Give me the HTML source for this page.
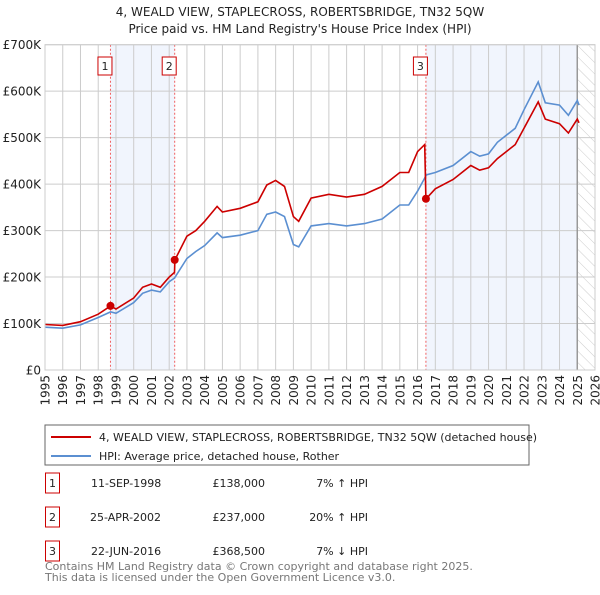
<!DOCTYPE html>
<html><head><meta charset="utf-8"><style>
body{margin:0;background:#fff;font-family:"Liberation Sans","DejaVu Sans",sans-serif;}
svg text{font-family:"DejaVu Sans","Liberation Sans",sans-serif;}
</style></head><body>
<svg id="c" width="600" height="590" xmlns="http://www.w3.org/2000/svg">
<defs><pattern id="hatch" width="8" height="8" patternUnits="userSpaceOnUse" patternTransform="rotate(-45)"><line x1="0" y1="0" x2="0" y2="8" stroke="#ccc" stroke-width="1"/></pattern></defs>
<text x="300" y="16" text-anchor="middle" font-size="12" fill="#222">4, WEALD VIEW, STAPLECROSS, ROBERTSBRIDGE, TN32 5QW</text>
<text x="300" y="33" text-anchor="middle" font-size="12" fill="#222">Price paid vs. HM Land Registry's House Price Index (HPI)</text>
<g id="plot"></g>
<rect x="45" y="425" width="484" height="40" fill="#fff" stroke="#666"/>
<line x1="51" y1="437" x2="91" y2="437" stroke="#cc0000" stroke-width="2"/>
<text x="99" y="441" font-size="11" fill="#222">4, WEALD VIEW, STAPLECROSS, ROBERTSBRIDGE, TN32 5QW (detached house)</text>
<line x1="51" y1="456" x2="91" y2="456" stroke="#5b8fd1" stroke-width="2"/>
<text x="99" y="460" font-size="11" fill="#222">HPI: Average price, detached house, Rother</text>
<g font-size="11" fill="#222">
<rect x="45.5" y="473" width="14" height="20" fill="#fff" stroke="#cc0000"/><text x="52.5" y="487" text-anchor="middle">1</text>
<text x="91" y="487">11-SEP-1998</text><text x="265" y="487" text-anchor="end">£138,000</text><text x="368" y="487" text-anchor="end">7% ↑ HPI</text>
<rect x="45.5" y="507" width="14" height="20" fill="#fff" stroke="#cc0000"/><text x="52.5" y="521" text-anchor="middle">2</text>
<text x="90" y="521">25-APR-2002</text><text x="265" y="521" text-anchor="end">£237,000</text><text x="368" y="521" text-anchor="end">20% ↑ HPI</text>
<rect x="45.5" y="541" width="14" height="20" fill="#fff" stroke="#cc0000"/><text x="52.5" y="555" text-anchor="middle">3</text>
<text x="91" y="555">22-JUN-2016</text><text x="265" y="555" text-anchor="end">£368,500</text><text x="368" y="555" text-anchor="end">7% ↓ HPI</text>
</g>
<text x="45" y="570" font-size="11" fill="#777">Contains HM Land Registry data © Crown copyright and database right 2025.</text>
<text x="45" y="581" font-size="11" fill="#777">This data is licensed under the Open Government Licence v3.0.</text>
</svg>
<script>
const hpiYears=[1995,1996,1997,1998,1998.7,1999,2000,2000.5,2001,2001.5,2002,2002.3,2003,2003.5,2004,2004.7,2005,2006,2007,2007.5,2008,2008.5,2009,2009.3,2010,2011,2012,2013,2014,2015,2015.5,2016,2016.5,2017,2018,2019,2019.5,2020,2020.5,2021,2021.5,2022,2022.8,2023.2,2024,2024.5,2025,2025.1];
const hpiValues=[92,90,97,113,125,122,145,165,172,168,190,198,240,255,268,295,285,290,300,335,340,330,270,265,310,315,310,315,325,355,355,385,420,425,440,470,460,465,490,505,520,560,620,575,570,548,580,570];
const priceYears=[1995,1996,1997,1998,1998.7,1999,2000,2000.5,2001,2001.5,2002,2002.3,2002.32,2003,2003.5,2004,2004.7,2005,2006,2007,2007.5,2008,2008.5,2009,2009.3,2010,2011,2012,2013,2014,2015,2015.5,2016,2016.4,2016.47,2017,2018,2019,2019.5,2020,2020.5,2021,2021.5,2022,2022.8,2023.2,2024,2024.5,2025,2025.1];
const priceValues=[98,96,104,120,138,131,155,178,185,178,200,210,237,288,300,320,352,340,348,362,398,408,395,330,320,370,378,372,378,395,425,425,470,485,368,390,410,440,430,435,455,470,485,520,577,540,530,510,540,532];
const saleLabels=["1","2","3"];
const saleYears=[1998.69,2002.31,2016.47];
const saleValues=[138,237,368.5];
const yTicks=[0,100,200,300,400,500,600,700];
const yTickLabels=["£0","£100K","£200K","£300K","£400K","£500K","£600K","£700K"];
const xTicks=[1995,1996,1997,1998,1999,2000,2001,2002,2003,2004,2005,2006,2007,2008,2009,2010,2011,2012,2013,2014,2015,2016,2017,2018,2019,2020,2021,2022,2023,2024,2025,2026];
const forecastStart=2025.0;
const L=45,R=595,T=44.7,B=370,X0=1995,X1=2026,YMAX=700;
const X=v=>L+(v-X0)/(X1-X0)*(R-L);
const Y=v=>B-v/YMAX*(B-T);
const NS="http://www.w3.org/2000/svg";
const g=document.getElementById('plot');
function mk(t,a){const e=document.createElementNS(NS,t);for(const k in a)e.setAttribute(k,a[k]);g.appendChild(e);return e;}
let e;
e=mk('rect',{x:L,y:T,width:R-L,height:B-T,fill:'#fff'});


e=mk('rect',{x:X(saleYears[0]),y:T,width:X(saleYears[1])-X(saleYears[0]),height:B-T,fill:'#eef3fc',opacity:0.8});


e=mk('rect',{x:X(saleYears[2]),y:T,width:X(forecastStart)-X(saleYears[2]),height:B-T,fill:'#eef3fc',opacity:0.8});


e=mk('rect',{x:X(forecastStart),y:T,width:R-X(forecastStart),height:B-T,fill:'url(#hatch)'});


yTicks.forEach((v,i)=>{
 e=mk('line',{x1:L,x2:R,y1:Y(v),y2:Y(v),stroke:'#ccc','stroke-width':1});
 
 
 e=mk('text',{x:L-4,y:Y(v)+4.5,'text-anchor':'end','font-size':12,fill:'#222'});
 e.textContent=yTickLabels[i];
 
 
});
xTicks.forEach(v=>{
 e=mk('line',{x1:X(v),x2:X(v),y1:T,y2:B,stroke:'#ccc','stroke-width':1});
 
 
 e=mk('text',{x:0,y:0,'text-anchor':'end','font-size':12,fill:'#222',transform:`translate(${X(v)+4.5},${B+5}) rotate(-90)`});
 e.textContent=v;
 
 
});
e=mk('line',{x1:X(forecastStart),x2:X(forecastStart),y1:T,y2:B,stroke:'#999','stroke-width':1.5});


saleYears.forEach((v,i)=>{
 e=mk('line',{x1:X(v),x2:X(v),y1:T,y2:B,stroke:'#f06060','stroke-width':1,'stroke-dasharray':'2,2'});
 
 
});
const pts=(xs,vs)=>xs.map((x,i)=>X(x).toFixed(1)+','+Y(vs[i]).toFixed(1)).join(' ');
e=mk('polyline',{points:pts(hpiYears,hpiValues),fill:'none',stroke:'#5b8fd1','stroke-width':1.6});


e=mk('polyline',{points:pts(priceYears,priceValues),fill:'none',stroke:'#cc0000','stroke-width':1.6});


saleYears.forEach((v,i)=>{
 e=mk('circle',{cx:X(v),cy:Y(saleValues[i]),r:4,fill:'#cc0000'});
 
 
 e=mk('rect',{x:X(v)-12.5,y:57,width:14,height:18,fill:'#fff',stroke:'#cc0000'});
 
 
 e=mk('text',{x:X(v)-5.5,y:70,'text-anchor':'middle','font-size':11,fill:'#222'});
 e.textContent=saleLabels[i];
 
 
});
e=mk('rect',{x:L,y:T,width:R-L,height:B-T,fill:'none',stroke:'#ccc'});


</script>
</body></html>
